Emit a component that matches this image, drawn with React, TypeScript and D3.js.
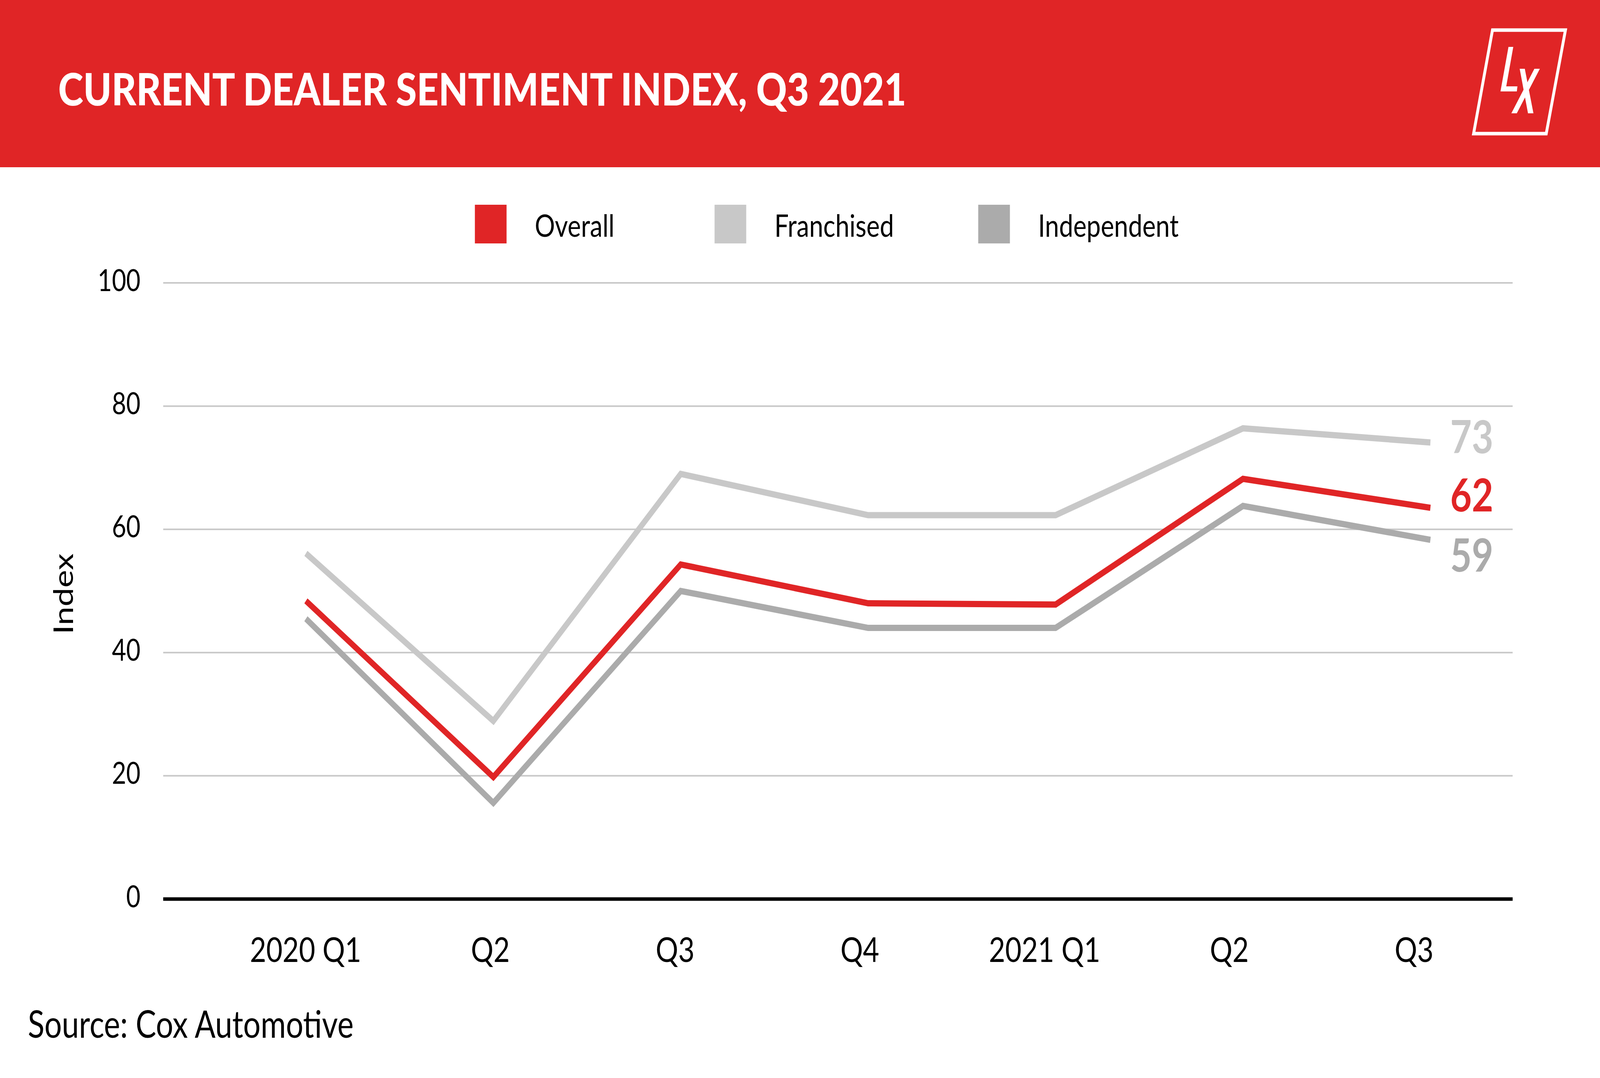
import { scaleLinear, scalePoint, line } from 'd3';

// chart data
const quarters = ['2020 Q1', 'Q2', 'Q3', 'Q4', '2021 Q1', 'Q2 ', 'Q3 '];
const overall = [48.4, 19.8, 54.3, 48.0, 47.8, 68.2, 63.5];
const franchised = [56.1, 28.9, 69.0, 62.3, 62.3, 76.4, 74.1];
const independent = [45.5, 15.6, 50.0, 44.0, 44.0, 63.8, 58.3];
const yTicks = [0, 20, 40, 60, 80, 100];
const endLabels = ['73', '62', '59'];

const W = 5000;
const H = 2759;
const RED = '#E02526';
const LIGHT = '#C8C8C8';
const MID = '#ABABAB';
const FONT = 'Lato, "Open Sans", sans-serif';

export default function App() {
    const y = scaleLinear().domain([0, 100]).range([2301, 724]);
    // lines and tick labels are laid out slightly differently in the source
    const xLine = scalePoint<string>().domain(quarters).range([956, 4470]);
    const xLabel = scalePoint<string>().domain(quarters).range([955, 4419]);

    const makePath = (vals: number[]) =>
        line<number>()
            .x((_, i) => xLine(quarters[i]) || 0)
            .y((v) => y(v))(vals) || '';

    const series = [
        { name: 'Franchised', vals: franchised, color: LIGHT, label: endLabels[0] },
        { name: 'Independent', vals: independent, color: MID, label: endLabels[2] },
        { name: 'Overall', vals: overall, color: RED, label: endLabels[1] },
    ];
    const labelBase = [1160, 1463, 1309];

    const legend = [
        { name: 'Overall', color: RED, x: 1484 },
        { name: 'Franchised', color: LIGHT, x: 2233 },
        { name: 'Independent', color: MID, x: 3057 },
    ];

    return (
        <div style={{ position: 'absolute', left: 0, top: 0, width: '100vw', height: '100vh', overflow: 'hidden' }}>
            {/* the window is narrower than 5000px, so the drawing is stretched to fill it */}
            <svg
                viewBox={`0 0 ${W} ${H}`}
                preserveAspectRatio="none"
                style={{ display: 'block', width: '100%', height: '100%', background: '#fff' }}
                fontFamily={FONT}
            >
                {/* header */}
                <rect x={0} y={0} width={W} height={428} fill={RED} />
                <text x={182} y={270} fill="#fff" fontSize={114} fontWeight={900} textLength={2650} lengthAdjust="spacingAndGlyphs">
                    CURRENT DEALER SENTIMENT INDEX, Q3 2021
                </text>
                <g fill="#fff">
                    <path d="M4664,77 L4892,77 L4832,342 L4605,342 Z" fill="none" stroke="#fff" strokeWidth={9} />
                    <path d="M4714,120 L4729,120 L4707,221 L4742,221 L4740,234 L4689,234 Z" />
                    <path d="M4749,176 L4765,176 L4792,290 L4775,290 Z" />
                    <path d="M4795,176 L4812,176 L4740,290 L4723,290 Z" />
                </g>

                {/* legend */}
                {legend.map((d) => (
                    <g key={d.name}>
                        <rect x={d.x} y={524} width={99} height={99} fill={d.color} />
                        <text x={d.x + 187} y={606} fontSize={79} fill="#000">
                            {d.name}
                        </text>
                    </g>
                ))}

                {/* grid */}
                {yTicks.map((t) => (
                    <g key={t}>
                        {t > 0 && <line x1={510} x2={4727} y1={y(t)} y2={y(t)} stroke={LIGHT} strokeWidth={4} />}
                        <text x={439} y={y(t) - 9} fontSize={77} textAnchor="end" dominantBaseline="central" fill="#000">
                            {t}
                        </text>
                    </g>
                ))}
                <line x1={510} x2={4727} y1={y(0)} y2={y(0)} stroke="#000" strokeWidth={9} />

                <text transform="translate(228,1520) rotate(-90)" fontSize={86} textAnchor="middle" fill="#000">
                    Index
                </text>

                {/* x labels */}
                {quarters.map((q) => (
                    <text key={q} x={xLabel(q)} y={2462} fontSize={88} textAnchor="middle" fill="#000">
                        {q.trim()}
                    </text>
                ))}

                {/* lines */}
                {series.map((s) => (
                    <path key={s.name} d={makePath(s.vals)} fill="none" stroke={s.color} strokeWidth={16} strokeLinejoin="miter" strokeLinecap="butt" />
                ))}
                {series.map((s, i) => (
                    <text key={s.name + 'l'} x={4532} y={labelBase[i]} fontSize={116} fontWeight={700} fill={s.color}>
                        {s.label}
                    </text>
                ))}

                <text x={87} y={2656} fontSize={96} fill="#000">
                    Source: Cox Automotive
                </text>
            </svg>
        </div>
    );
}
